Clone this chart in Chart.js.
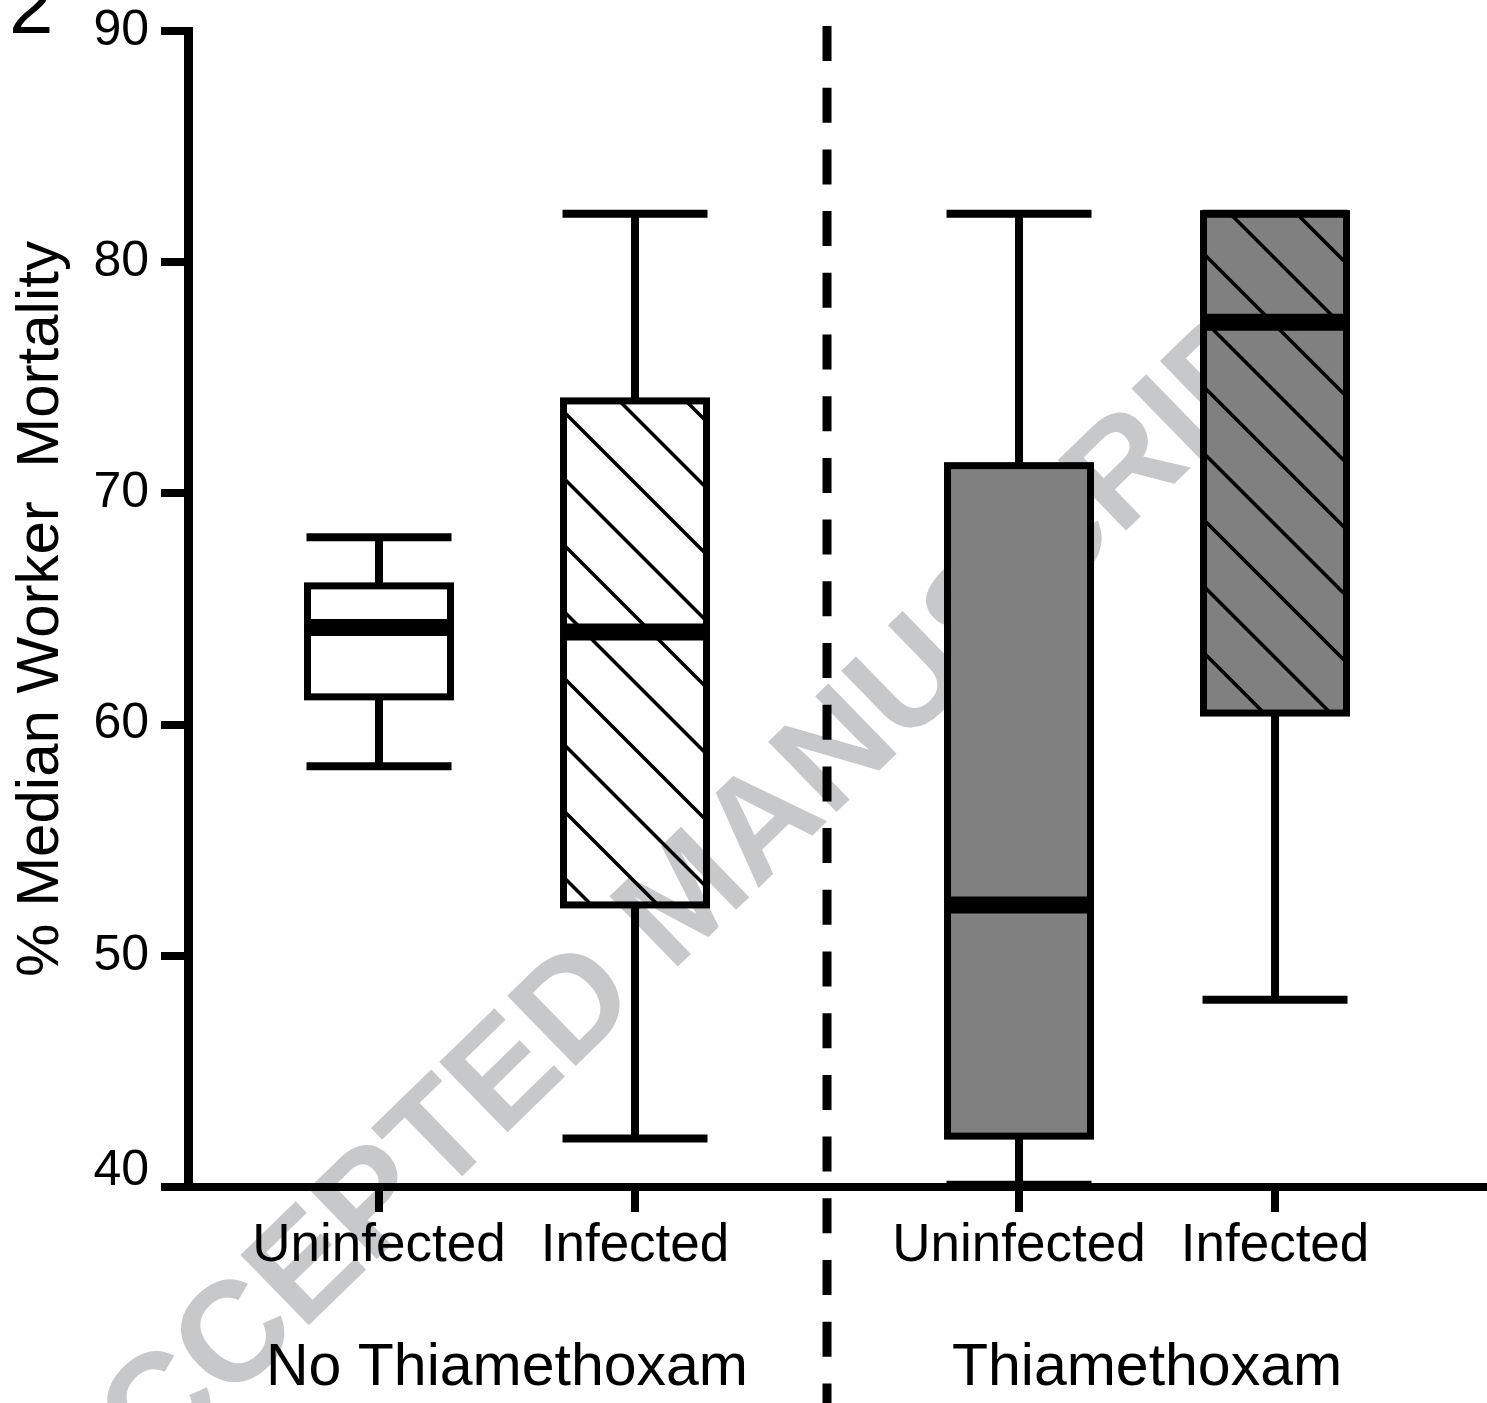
<!DOCTYPE html>
<html><head><meta charset="utf-8">
<script src="https://cdn.jsdelivr.net/npm/chart.js@4.4.0/dist/chart.umd.min.js"></script>
<style>html,body{margin:0;padding:0;background:#fff;overflow:hidden}</style>
</head><body>
<div style="position:relative;width:1487px;height:1403px"><canvas id="c"></canvas></div>
<script>
// ---- data ----
const categories = ['Uninfected', 'Infected', 'Uninfected', 'Infected'];
const groups = ['No Thiamethoxam', 'Thiamethoxam'];
const positions = [1, 2, 3.5, 4.5];
const whiskerLow  = [58.2, 42.1, 40.1, 48.1];
const quartile1   = [61.2, 52.2, 42.2, 60.5];
const medians     = [64.2, 64.0, 52.2, 77.4];
const quartile3   = [66.0, 74.0, 71.2, 82.1];
const whiskerHigh = [68.1, 82.1, 82.1, 82.1];
const yTicks = [40, 50, 60, 70, 80, 90];
const yTitle = '% Median Worker  Mortality';
const panelLabel = '2';
const watermarkText = 'ACCEPTED MANUSCRIPT';

const FONT = "'Liberation Sans', Arial, Helvetica, sans-serif";
const canvas = document.getElementById('c');
const ctx0 = canvas.getContext('2d');

function hatch(bg) {
  const P = 133, s = 66.5, off = 47.5;
  const t = document.createElement('canvas'); t.width = P; t.height = P;
  const g = t.getContext('2d');
  if (bg) { g.fillStyle = bg; g.fillRect(0, 0, P, P); }
  g.strokeStyle = '#000'; g.lineWidth = 3.5;
  for (let k = -4; k <= 3; k++) {
    const b = off + k * s;
    g.beginPath(); g.moveTo(-20, -20 + b); g.lineTo(P + 20, P + 20 + b); g.stroke();
  }
  return ctx0.createPattern(t, 'repeat');
}
const fills = ['#ffffff', hatch(null), '#808080', hatch('#808080')];

const boxPlugin = {
  id: 'boxExtras',
  beforeDraw(chart) {
    const c = chart.ctx, W = chart.width, H = chart.height;
    c.save();
    c.translate(W * 0.4633, H * 0.6422);
    c.rotate(-44.2 * Math.PI / 180);
    c.fillStyle = '#c7c8ca';
    c.font = 'bold 142.5px ' + FONT;
    c.textAlign = 'center'; c.textBaseline = 'middle';
    c.fillText(watermarkText, 0, 0);
    c.restore();
  },
  afterDatasetsDraw(chart) {
    const c = chart.ctx, y = chart.scales.y;
    const meta = chart.getDatasetMeta(0);
    c.save();
    c.strokeStyle = '#000'; c.lineCap = 'butt'; c.lineJoin = 'miter';
    meta.data.forEach((el, i) => {
      const p = el.getProps(['x', 'y', 'base', 'width'], true);
      const l = p.x - p.width / 2, r = p.x + p.width / 2;
      // whiskers
      c.lineWidth = 8;
      c.beginPath();
      c.moveTo(p.x, y.getPixelForValue(quartile3[i])); c.lineTo(p.x, y.getPixelForValue(whiskerHigh[i]));
      c.moveTo(p.x, y.getPixelForValue(quartile1[i])); c.lineTo(p.x, y.getPixelForValue(whiskerLow[i]));
      c.stroke();
      // caps
      const cw = p.width + 2;
      c.beginPath();
      [whiskerHigh[i], whiskerLow[i]].forEach(v => {
        const yy = y.getPixelForValue(v);
        c.moveTo(p.x - cw / 2, yy); c.lineTo(p.x + cw / 2, yy);
      });
      c.stroke();
      // median
      c.lineWidth = 17;
      const ym = y.getPixelForValue(medians[i]);
      c.beginPath(); c.moveTo(l, ym); c.lineTo(r, ym); c.stroke();
      // box outline
      c.lineWidth = 7;
      c.strokeRect(l, Math.min(p.y, p.base), p.width, Math.abs(p.base - p.y));
    });
    c.restore();
  },
  afterDraw(chart) {
    const c = chart.ctx, x = chart.scales.x, H = chart.height;
    c.save();
    // dashed divider between the two groups
    const xd = x.getPixelForValue((positions[1] + positions[2]) / 2);
    c.strokeStyle = '#000'; c.lineWidth = 9; c.setLineDash([35, 26.7]);
    c.beginPath(); c.moveTo(xd, 26); c.lineTo(xd, H); c.stroke();
    c.setLineDash([]);
    // group labels
    c.fillStyle = '#000';
    c.font = '59px ' + FONT;
    c.textAlign = 'center'; c.textBaseline = 'alphabetic';
    c.fillText(groups[0], x.getPixelForValue((positions[0] + positions[1]) / 2), H - 18);
    c.fillText(groups[1], x.getPixelForValue((positions[2] + positions[3]) / 2), H - 18);
    // panel label (cut at top)
    c.font = '80px ' + FONT;
    c.textAlign = 'left';
    c.fillText(panelLabel, 9, 33);
    c.restore();
  }
};

new Chart(canvas, {
  type: 'bar',
  data: {
    datasets: [{
      data: positions.map((p, i) => ({ x: p, y: [quartile1[i], quartile3[i]] })),
      backgroundColor: fills,
      borderWidth: 0,
      barThickness: 143
    }]
  },
  options: {
    responsive: true,
    maintainAspectRatio: false,
    devicePixelRatio: 1,
    animation: false,
    layout: { padding: { top: 31, left: 0, right: 0, bottom: 0 } },
    plugins: { legend: { display: false }, tooltip: { enabled: false } },
    scales: {
      x: {
        type: 'linear', min: 0.2539, max: 5.328, offset: false,
        afterBuildTicks: s => { s.ticks = positions.map(v => ({ value: v })); },
        afterFit: s => { s.height = 216; },
        ticks: {
          callback: (v, i) => categories[i],
          autoSkip: false, maxRotation: 0, minRotation: 0,
          font: { family: FONT, size: 53 }, color: '#000', padding: 3
        },
        grid: { display: true, drawOnChartArea: false, drawTicks: true, tickLength: 25, lineWidth: 8, color: '#000', offset: false },
        border: { display: true, width: 8, color: '#000' }
      },
      y: {
        type: 'linear', min: 40, max: 90,
        afterBuildTicks: s => { s.ticks = yTicks.map(v => ({ value: v })); },
        afterFit: s => { s.width = 188; },
        ticks: {
          callback: v => (v === yTicks[0] ? [String(v), ''] : String(v)),
          font: { family: FONT, size: 50, lineHeight: 0.64 }, color: '#000', padding: 12
        },
        grid: { display: true, drawOnChartArea: false, drawTicks: true, tickLength: 27, lineWidth: 8, color: '#000' },
        border: { display: true, width: 9, color: '#000' },
        title: {
          display: true, text: yTitle, color: '#000',
          font: { family: FONT, size: 60 }, padding: { top: 5, bottom: 0 }
        }
      }
    }
  },
  plugins: [boxPlugin]
});
</script>
</body></html>
